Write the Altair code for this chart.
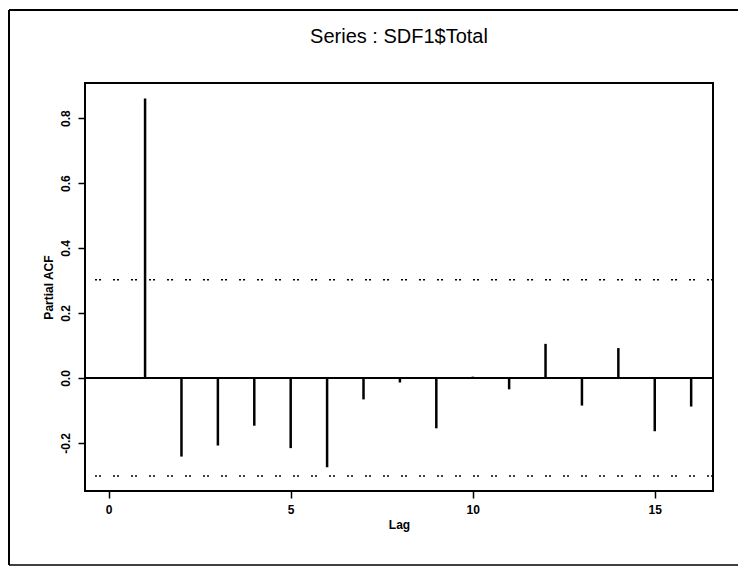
import altair as alt
import pandas as pd

lags = list(range(1, 17))
pacf = [0.86, -0.242, -0.208, -0.147, -0.216, -0.275, -0.066, -0.014,
        -0.155, 0.004, -0.035, 0.105, -0.085, 0.092, -0.164, -0.088]
conf_bound = 0.302
y_ticks = [-0.2, 0.0, 0.2, 0.4, 0.6, 0.8]
x_ticks = [0, 5, 10, 15]
title_text = "Series : SDF1$Total"

df = pd.DataFrame({"lag": lags, "pacf": pacf, "zero": [0.0] * len(lags)})
bounds = pd.DataFrame({"b": [conf_bound, -conf_bound]})

FONT = "Liberation Sans"

x_scale = alt.Scale(domain=[-0.65, 16.6], nice=False, zero=False)
y_scale = alt.Scale(domain=[-0.348, 0.908], nice=False, zero=False)

x_axis = alt.Axis(values=x_ticks, title="Lag", grid=False, tickSize=7,
                  tickColor="black", tickWidth=1.5, domain=False,
                  labelFont=FONT, labelFontWeight="bold", labelFontSize=12,
                  labelColor="black", labelPadding=6,
                  titleFont=FONT, titleFontWeight="bold", titleFontSize=12,
                  titleColor="black", titlePadding=4)
y_axis = alt.Axis(values=y_ticks, title="Partial ACF", grid=False, tickSize=7,
                  tickColor="black", tickWidth=1.5, domain=False,
                  labelExpr="(datum.value < 0 ? '-' : '') + format(abs(datum.value), '.1f')",
                  labelAngle=270, labelAlign="center", labelBaseline="bottom",
                  labelFont=FONT, labelFontWeight="bold", labelFontSize=12,
                  labelColor="black", labelPadding=6,
                  titleFont=FONT, titleFontWeight="bold", titleFontSize=12,
                  titleColor="black", titlePadding=4)

base = alt.Chart(df)

spikes = base.mark_rule(color="black", strokeWidth=2.5).encode(
    x=alt.X("lag:Q", scale=x_scale, axis=x_axis),
    y=alt.Y("pacf:Q", scale=y_scale, axis=y_axis),
    y2="zero:Q",
)

zero_line = alt.Chart(pd.DataFrame({"z": [0.0]})).mark_rule(
    color="black", strokeWidth=2
).encode(y=alt.Y("z:Q", scale=y_scale))

bound_lines = alt.Chart(bounds).mark_rule(
    color="black", strokeWidth=1.5, strokeDash=[2, 2, 2, 12]
).encode(y=alt.Y("b:Q", scale=y_scale))

one = pd.DataFrame({"f": [1]})
frame_left = alt.Chart(one).mark_rule(color="black", strokeWidth=2, clip=False).encode(
    x=alt.value(-76), y=alt.value(-73), y2=alt.value(482))
frame_top = alt.Chart(one).mark_rule(color="black", strokeWidth=2, clip=False).encode(
    x=alt.value(-76), x2=alt.value(653), y=alt.value(-73))
frame_bottom = alt.Chart(one).mark_rule(color="black", strokeWidth=1.5, clip=False).encode(
    x=alt.value(-76), x2=alt.value(653), y=alt.value(482))

title = alt.Chart(pd.DataFrame({"t": [title_text]})).mark_text(
    font=FONT, fontSize=20, fontWeight="normal", color="black",
    align="center", baseline="alphabetic"
).encode(text="t:N", x=alt.value(314), y=alt.value(-40))

chart = alt.layer(frame_left, frame_top, frame_bottom, bound_lines, zero_line,
                  spikes, title).properties(
    width=628,
    height=408,
    background="white",
    autosize=alt.AutoSizeParams(type="none"),
    padding={"left": 77, "top": 75, "right": 25, "bottom": 76},
).configure_view(stroke="black", strokeWidth=2)

chart.save("out.html", embed_options={"renderer": "svg", "actions": False})
